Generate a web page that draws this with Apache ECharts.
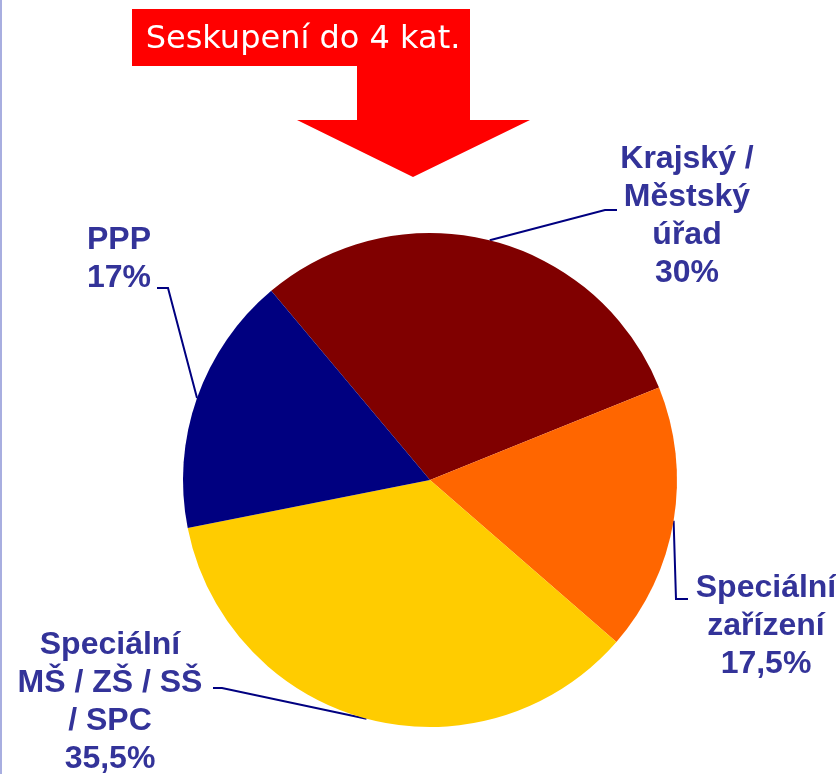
<!DOCTYPE html>
<html>
<head>
<meta charset="utf-8">
<script src="https://cdn.jsdelivr.net/npm/echarts@6/dist/echarts.min.js"></script>
<style>
  html, body { margin: 0; padding: 0; background: #fff; }
  #main { width: 836px; height: 774px; }
</style>
</head>
<body>
<div id="main"></div>
<script>
// data
const categories = ['Krajský /\nMěstský\núřad', 'Speciální\nzařízení', 'Speciální\nMŠ / ZŠ / SŠ\n/ SPC', 'PPP'];
const shares = [30, 17.5, 35.5, 17];
const colors = ['#800000', '#FF6600', '#FFCC00', '#000080'];

// label placement: [center x, top y, elbow x, elbow y, end x]
const labelSpots = [
    [687, 140, 605, 210, 617],
    [766, 569, 676, 599, 688],
    [110, 626, 222, 688, 213],
    [119, 221, 168, 288, 157]
];

const chart = echarts.init(document.getElementById('main'));
chart.setOption({
    animation: false,
    graphic: [
        // left border
        { type: 'rect', shape: { x: 0, y: 0, width: 2, height: 774 }, style: { fill: '#a8aee0' } },
        // red box + arrow
        {
            type: 'polygon',
            shape: {
                points: [[132, 9], [470, 9], [470, 120], [530, 120], [413, 177],
                         [297, 120], [357, 120], [357, 66], [132, 66]]
            },
            style: { fill: '#FF0000' }
        },
        {
            type: 'text',
            x: 303, y: 40,
            style: {
                text: 'Seskupení do 4 kat.',
                fill: '#fff',
                font: '32px "DejaVu Sans"',
                align: 'center',
                verticalAlign: 'middle'
            }
        }
    ],
    series: [{
        type: 'pie',
        center: [430, 480],
        radius: 247,
        startAngle: 130,
        clockwise: true,
        avoidLabelOverlap: false,
        data: categories.map((name, i) => ({
            name: name,
            value: shares[i],
            itemStyle: { color: colors[i] }
        })),
        label: {
            show: true,
            position: 'outside',
            formatter: p => p.name + '\n' + String(p.value).replace('.', ',') + '%',
            color: '#333399',
            fontFamily: 'Liberation Sans',
            fontWeight: 'bold',
            fontSize: 32,
            lineHeight: 38,
            align: 'center'
        },
        labelLine: {
            show: true,
            lineStyle: { color: '#000080', width: 2 }
        },
        labelLayout: function (params) {
            const s = labelSpots[params.dataIndex];
            const p0 = params.labelLinePoints[0];
            return {
                x: s[0],
                y: s[1],
                align: 'center',
                verticalAlign: 'top',
                labelLinePoints: [p0, [s[2], s[3]], [s[4], s[3]]]
            };
        }
    }]
});

window.addEventListener('resize', () => chart.resize());
</script>
</body>
</html>
